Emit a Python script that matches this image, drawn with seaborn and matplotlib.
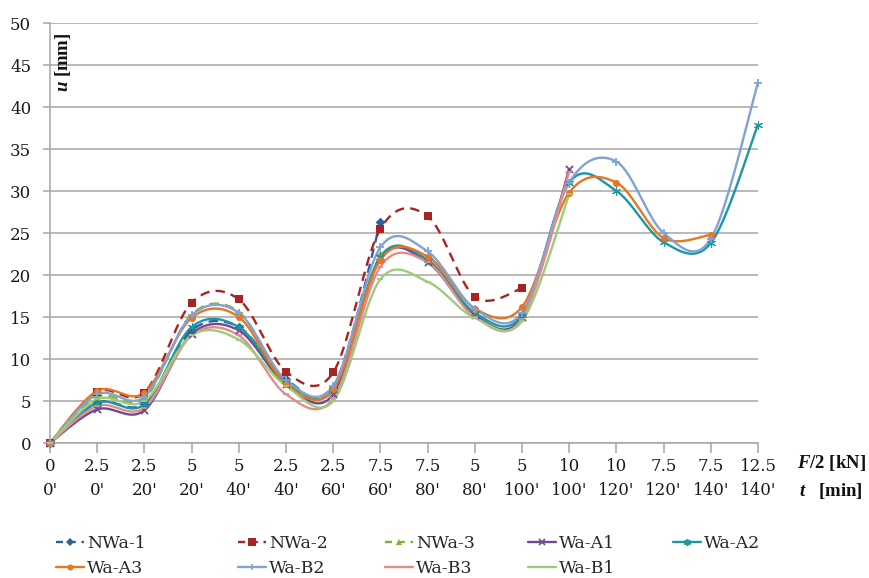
import numpy as np
import pandas as pd
import matplotlib
matplotlib.use("Agg")
import matplotlib.pyplot as plt
from matplotlib.lines import Line2D
import seaborn as sns

# ---------------- data ----------------
force_labels = ["0", "2.5", "2.5", "5", "5", "2.5", "2.5", "7.5", "7.5", "5", "5",
                "10", "10", "7.5", "7.5", "12.5"]
time_labels = ["0'", "0'", "20'", "20'", "40'", "40'", "60'", "60'", "80'", "80'",
               "100'", "100'", "120'", "120'", "140'", "140'"]

NWa_1 = [0, 4.8, 4.7, 13.4, 13.8, 7.6, 6.6, 26.3]
NWa_2 = [0, 6.1, 6.0, 16.7, 17.1, 8.5, 8.4, 25.5, 27.0, 17.4, 18.4]
NWa_3 = [0, 5.5, 5.3, 15.3, 15.6, 7.2, 6.8, 22.6]
Wa_A1 = [0, 4.0, 3.9, 13.0, 13.4, 7.0, 5.8, 22.0, 21.5, 15.2, 15.0, 32.6]
Wa_A2 = [0, 4.8, 4.6, 13.8, 13.8, 7.4, 6.3, 22.2, 21.8, 15.5, 15.2, 31.0, 30.0, 23.9, 23.8, 37.9]
Wa_A3 = [0, 6.2, 6.0, 14.9, 15.0, 7.0, 6.4, 21.8, 22.2, 16.0, 16.2, 29.8, 31.0, 24.4, 24.8]
Wa_B2 = [0, 5.8, 5.5, 15.2, 15.5, 7.5, 6.8, 23.3, 22.8, 16.0, 15.5, 31.0, 33.5, 25.0, 24.3, 42.9]
Wa_B3 = [0, 4.4, 4.2, 12.8, 12.8, 5.8, 5.3, 21.0, 21.5, 15.0, 14.8, 32.3]
Wa_B1 = [0, 5.2, 5.0, 12.8, 12.3, 6.8, 5.0, 19.5, 19.2, 14.9, 14.5, 29.6]

series = [
    ("NWa-1", NWa_1, "#2D5E9E", "dash", "D", 24),
    ("NWa-2", NWa_2, "#A82424", "dash", "s", 36),
    ("NWa-3", NWa_3, "#7FAF3C", "dash", "^", 22),
    ("Wa-A1", Wa_A1, "#6E4A92", "solid", "x", 26),
    ("Wa-A2", Wa_A2, "#1B97A3", "solid", (6, 2, 0), 34),
    ("Wa-A3", Wa_A3, "#E8761F", "solid", "o", 26),
    ("Wa-B2", Wa_B2, "#7FA3D3", "solid", "+", 34),
    ("Wa-B3", Wa_B3, "#E38B8B", "solid", "_", 24),
    ("Wa-B1", Wa_B1, "#9DCB7B", "solid", "_", 24),
]


def smooth(vals, n=40):
    """Excel-style smoothed line (cubic Bezier through the points)."""
    pts = np.column_stack([np.arange(len(vals), dtype=float), np.asarray(vals, float)])
    out = []
    for i in range(len(pts) - 1):
        p0 = pts[i - 1] if i > 0 else pts[i]
        p1, p2 = pts[i], pts[i + 1]
        p3 = pts[i + 2] if i + 2 < len(pts) else pts[i + 1]
        c1 = p1 + (p2 - p0) / 6.0
        c2 = p2 - (p3 - p1) / 6.0
        t = np.linspace(0, 1, n)[:, None]
        b = (1 - t) ** 3 * p1 + 3 * (1 - t) ** 2 * t * c1 + 3 * (1 - t) * t ** 2 * c2 + t ** 3 * p2
        out.append(b if i == 0 else b[1:])
    return np.vstack(out)


# ---------------- figure ----------------
sns.set_theme(style="white")
FONT = "DejaVu Serif"
LAB = "Liberation Serif"
plt.rcParams["font.family"] = [FONT, "Liberation Serif"]
plt.rcParams["mathtext.fontset"] = "custom"
plt.rcParams["mathtext.rm"] = LAB + ":bold"
plt.rcParams["mathtext.it"] = LAB + ":bold:italic"
plt.rcParams["mathtext.bf"] = LAB + ":bold"

FS = 12

fig = plt.figure(figsize=(8.7, 5.78), dpi=100)
ax = fig.add_axes([50 / 870, (578 - 443) / 578, (758 - 50) / 870, (443 - 23) / 578])

grid_col = "#A6A6A6"
dash_pat = (4.0, 2.6)

for name, vals, col, ls, mk, ms in series:
    cur = smooth(vals)
    sns.lineplot(x=cur[:, 0], y=cur[:, 1], sort=False, estimator=None, ax=ax,
                 color=col, linewidth=1.7, clip_on=False)
    line = ax.get_lines()[-1]
    if ls == "dash":
        line.set_linestyle((0, dash_pat))
    idx = np.arange(len(vals))
    if mk in ("x", "+", "_"):
        sns.scatterplot(x=idx, y=vals, marker=mk, s=ms, color=col, linewidth=1.3,
                        ax=ax, clip_on=False, zorder=3)
    else:
        sns.scatterplot(x=idx, y=vals, marker=mk, s=ms, color=col, edgecolor=col,
                        linewidth=0.8 if mk == (6, 2, 0) else 0, ax=ax, clip_on=False, zorder=3)

ax.set_xlim(0, 15)
ax.set_ylim(0, 50)
ax.set_yticks(np.arange(0, 51, 5))
ax.set_yticklabels([str(v) for v in range(0, 51, 5)], fontsize=FS)
ax.set_xticks(np.arange(len(force_labels)))
ax.set_xticklabels(force_labels, fontsize=FS)
ax.yaxis.grid(True, color=grid_col, linewidth=1.1)
ax.xaxis.grid(False)
for s in ["top", "right"]:
    ax.spines[s].set_visible(False)
for s in ["left", "bottom"]:
    ax.spines[s].set_color(grid_col)
    ax.spines[s].set_linewidth(1.1)
ax.tick_params(axis="y", length=5, width=1.1, color=grid_col, pad=8.5, left=True,
               labelcolor="#1a1a1a")
ax.tick_params(axis="x", length=7, width=1.1, color=grid_col, pad=4, bottom=True,
               labelcolor="#1a1a1a")
ax.set_xlabel("")
ax.set_ylabel("")

for i, lab in enumerate(time_labels):
    ax.text(i, -0.112, lab, transform=ax.get_xaxis_transform(), ha="center", va="center",
            fontsize=FS, color="#1a1a1a")

fig.text(797 / 870, 1 - 463 / 578, r"$F$/2 [kN]", ha="left", va="center", fontsize=13.5,
         fontweight="bold", family=LAB, color="#111111")
fig.text(799 / 870, 1 - 491 / 578, r"$t$   [min]", ha="left", va="center", fontsize=13.5,
         fontweight="bold", family=LAB, color="#111111")
fig.text(63 / 870, 1 - 62 / 578, r"$u$ [mm]", rotation=90, ha="center", va="center",
         fontsize=13.5, fontweight="bold", family=LAB, color="#111111")

# legend: one small legend per column, rows filled left to right
handles = []
for name, vals, col, ls, mk, ms in series:
    handles.append(Line2D([], [], color=col, linewidth=1.7,
                          linestyle=(0, (3.0, 2.4)) if ls == "dash" else "-",
                          marker=mk, markersize=np.sqrt(ms) * 0.85,
                          markeredgewidth=1.2 if mk in ("x", "+", "_", (6, 2, 0)) else 0,
                          markerfacecolor=col, markeredgecolor=col, label=name))
col_x = [56, 238, 385, 528, 673]
for j, xpix in enumerate(col_x):
    ids = [j] + ([j + 5] if j + 5 < len(series) else [])
    leg = fig.legend([handles[i] for i in ids], [series[i][0] for i in ids],
                     loc="upper left", bbox_to_anchor=(xpix / 870, 1 - 535 / 578),
                     frameon=False, fontsize=12.5, handlelength=1.6, handletextpad=0.2,
                     labelspacing=0.45, borderaxespad=0, borderpad=0)

fig.savefig("out.png", dpi=100)
